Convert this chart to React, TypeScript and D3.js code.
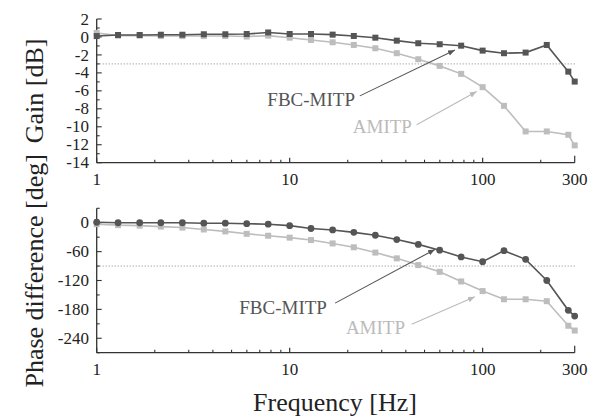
import React, { useEffect, useRef } from "react";
import * as d3 from "d3";

// measured frequencies [Hz]
const freqs = [1, 1.29, 1.67, 2.15, 2.78, 3.59, 4.64, 5.99, 7.74, 10, 12.9, 16.7, 21.5, 27.8, 35.9, 46.4, 59.9, 77.4, 100, 129, 167, 215, 278, 300];

// gain [dB]
const gainFbc = [0.1, 0.22, 0.22, 0.25, 0.25, 0.3, 0.3, 0.33, 0.5, 0.33, 0.33, 0.26, 0.11, -0.08, -0.41, -0.7, -0.81, -0.97, -1.52, -1.81, -1.74, -0.89, -3.86, -4.97];
const gainAmitp = [0.45, 0.15, 0.15, 0.1, 0.1, 0.1, 0.1, 0.05, 0.15, -0.08, -0.33, -0.59, -0.89, -1.26, -1.81, -2.48, -3.22, -4.11, -5.59, -7.67, -10.52, -10.52, -10.89, -12.07];

// phase difference [deg]
const phaseFbc = [1, 0, 0, 0, 0, -1, -1, -2, -3, -6, -12, -15, -20, -26, -35, -45, -57, -71, -81, -58, -76, -120, -182, -194];
const phaseAmitp = [-3, -5, -6, -8, -10, -14, -18, -23, -27, -31, -36, -43, -51, -62, -74, -88, -102, -122, -142, -159, -159, -163, -214, -224];

const xTickLabels = [1, 10, 100, 300];
const xMinorTicks = [2, 3, 4, 5, 6, 7, 8, 9, 20, 30, 40, 50, 60, 70, 80, 90, 200];
const gainTicks = [2, 0, -2, -4, -6, -8, -10, -12, -14];
const phaseTicks = [0, -60, -120, -180, -240];

// annotation positions in data units: [textX, textY, fromX, fromY, toX, toY]
const gainNotes = [
  { label: "FBC-MITP", pos: [21.8, -7.67, 23.1, -6.56, 71.9, -1.44], dark: true },
  { label: "AMITP", pos: [43.0, -10.7, 45.5, -9.78, 93.1, -6.08], dark: false },
];
const phaseNotes = [
  { label: "FBC-MITP", pos: [15.6, -189, 17.2, -167, 56.6, -55.5], dark: true },
  { label: "AMITP", pos: [39.6, -231, 42.9, -211, 91.2, -154], dark: false },
];

const DARK = "#555555";
const LIGHT = "#bdbdbd";
const FONT = "'Liberation Serif', 'Times New Roman', serif";

const App = () => {
  const ref = useRef(null);
  const width = 600;
  const height = 419;

  useEffect(() => {
    document.body.style.margin = "0";
    const svg = d3.select(ref.current);
    svg.selectAll("*").remove();

    const x = d3.scaleLog().domain([1, 300]).range([96.7, 574.7]);

    // arrow heads
    const defs = svg.append("defs");
    [["arrDark", "#555"], ["arrLight", "#bbb"]].forEach(([id, c]) => {
      defs.append("marker")
        .attr("id", id)
        .attr("viewBox", "0 0 10 10")
        .attr("refX", 10)
        .attr("refY", 5)
        .attr("markerWidth", 7)
        .attr("markerHeight", 7)
        .attr("markerUnits", "userSpaceOnUse")
        .attr("orient", "auto")
        .append("path")
        .attr("d", "M0,1 L10,5 L0,9 z")
        .attr("fill", c);
    });

    const drawPanel = (y, ticks, minorStep, fbc, amitp, refLine, notes, circles) => {
      const g = svg.append("g").style("font-family", FONT);
      const [yMin, yMax] = y.domain();
      const bottom = y(yMin);

      // dotted reference line
      g.append("line")
        .attr("x1", x(1)).attr("x2", x(300))
        .attr("y1", y(refLine)).attr("y2", y(refLine))
        .attr("stroke", "#888")
        .attr("stroke-width", 1)
        .attr("stroke-dasharray", "1,2");

      // x axis
      g.append("line")
        .attr("x1", x(1)).attr("x2", x(300))
        .attr("y1", bottom).attr("y2", bottom)
        .attr("stroke", "#333").attr("stroke-width", 1.3);
      g.selectAll(".xmaj").data(xTickLabels).join("line")
        .attr("x1", (d) => x(d)).attr("x2", (d) => x(d))
        .attr("y1", bottom).attr("y2", (d) => bottom - (d === 300 ? 7 : 5))
        .attr("stroke", "#333").attr("stroke-width", 1.2);
      g.selectAll(".xmin").data(xMinorTicks).join("line")
        .attr("x1", (d) => x(d)).attr("x2", (d) => x(d))
        .attr("y1", bottom).attr("y2", bottom - 3)
        .attr("stroke", "#333").attr("stroke-width", 1.1);
      g.selectAll(".xlab").data(xTickLabels).join("text")
        .attr("x", (d) => x(d))
        .attr("y", bottom + 22)
        .attr("text-anchor", "middle")
        .style("font-size", "17px")
        .style("fill", "#222")
        .text((d) => d);

      // y axis
      g.append("line")
        .attr("x1", x(1)).attr("x2", x(1))
        .attr("y1", y(yMax)).attr("y2", bottom)
        .attr("stroke", "#333").attr("stroke-width", 1.3);
      const minor = d3.range(yMin, yMax + 0.001, minorStep);
      g.selectAll(".ymin").data(minor).join("line")
        .attr("x1", x(1)).attr("x2", (d) => x(1) + (ticks.includes(d) ? 5 : 3))
        .attr("y1", (d) => y(d)).attr("y2", (d) => y(d))
        .attr("stroke", "#333").attr("stroke-width", 1.1);
      g.selectAll(".ylab").data(ticks).join("text")
        .attr("x", 89)
        .attr("y", (d) => y(d))
        .attr("dy", "0.33em")
        .attr("text-anchor", "end")
        .style("font-size", "17px")
        .style("fill", "#222")
        .text((d) => (d < 0 ? "-" + Math.abs(d) : d));

      // series
      const line = d3.line().x((d) => x(d[0])).y((d) => y(d[1]));
      const series = [
        { vals: amitp, color: LIGHT, circle: false },
        { vals: fbc, color: DARK, circle: circles },
      ];
      series.forEach((s) => {
        const pts = freqs.map((f, i) => [f, s.vals[i]]);
        g.append("path")
          .attr("d", line(pts))
          .attr("fill", "none")
          .attr("stroke", s.color)
          .attr("stroke-width", 1.6);
        if (s.circle) {
          g.selectAll(null).data(pts).join("circle")
            .attr("cx", (d) => x(d[0]))
            .attr("cy", (d) => y(d[1]))
            .attr("r", 3.4)
            .attr("fill", s.color);
        } else {
          g.selectAll(null).data(pts).join("rect")
            .attr("x", (d) => x(d[0]) - 3)
            .attr("y", (d) => y(d[1]) - 3)
            .attr("width", 6)
            .attr("height", 6)
            .attr("fill", s.color);
        }
      });

      // annotations
      notes.forEach((n) => {
        const [tx, ty, fx, fy, ex, ey] = n.pos;
        g.append("text")
          .attr("x", x(tx))
          .attr("y", y(ty))
          .attr("text-anchor", "end")
          .style("font-size", "19px")
          .style("fill", n.dark ? "#555" : "#bbb")
          .text(n.label);
        g.append("line")
          .attr("x1", x(fx)).attr("y1", y(fy))
          .attr("x2", x(ex)).attr("y2", y(ey))
          .attr("stroke", n.dark ? "#555" : "#bbb")
          .attr("stroke-width", 1.1)
          .attr("marker-end", `url(#${n.dark ? "arrDark" : "arrLight"})`);
      });
    };

    const yGain = d3.scaleLinear().domain([-14, 2]).range([162.7, 19]);
    const yPhase = d3.scaleLinear().domain([-270, 30]).range([352.7, 208.3]);

    drawPanel(yGain, gainTicks, 1, gainFbc, gainAmitp, -3, gainNotes, false);
    drawPanel(yPhase, phaseTicks, 30, phaseFbc, phaseAmitp, -90, phaseNotes, true);

    // axis titles
    const titles = svg.append("g").style("font-family", FONT).style("font-size", "26px").style("fill", "#222");
    titles.append("text")
      .attr("transform", `translate(43,${yGain(-6)}) rotate(-90)`)
      .attr("text-anchor", "middle")
      .text("Gain [dB]");
    titles.append("text")
      .attr("transform", `translate(43,${yPhase(-100)}) rotate(-90)`)
      .attr("text-anchor", "middle")
      .text("Phase difference [deg]");
    titles.append("text")
      .attr("x", 335)
      .attr("y", 411)
      .attr("text-anchor", "middle")
      .text("Frequency [Hz]");
  }, []);

  return <svg ref={ref} width={width} height={height} style={{ display: "block" }}></svg>;
};

export default App;
